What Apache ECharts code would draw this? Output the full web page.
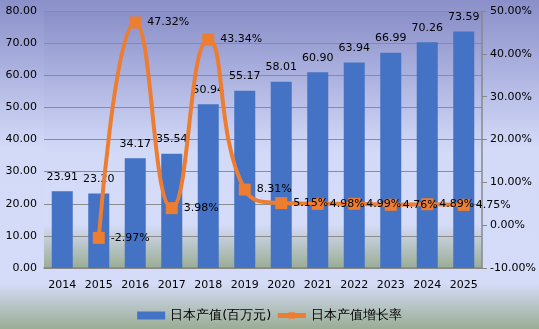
<!DOCTYPE html>
<html><head><meta charset="utf-8">
<script src="https://cdn.jsdelivr.net/npm/echarts@6/dist/echarts.min.js"></script>
<style>html,body{margin:0;padding:0;}#c{width:539px;height:329px;}</style>
</head><body><div id="c"></div>
<script>
const years = ['2014','2015','2016','2017','2018','2019','2020','2021','2022','2023','2024','2025'];
const outputValues = [23.91,23.20,34.17,35.54,50.94,55.17,58.01,60.90,63.94,66.99,70.26,73.59];
const growthRates = [null,-2.97,47.32,3.98,43.34,8.31,5.15,4.98,4.99,4.76,4.89,4.75];
const barName = '日本产值(百万元)';
const lineName = '日本产值增长率';

const chart = echarts.init(document.getElementById('c'));
const font = 'DejaVu Sans';
chart.setOption({
  animation:false,
  backgroundColor:{type:'linear',x:0,y:0,x2:0,y2:1,colorStops:[
    {offset:0,color:'#8a8fc9'},{offset:0.45,color:'#d3daf8'},{offset:0.86,color:'#d5dcf8'},{offset:1,color:'#9aad94'}]},
  textStyle:{fontFamily:font},
  grid:{left:44,right:57,top:11,bottom:61,show:true,borderWidth:0,
    backgroundColor:{type:'linear',x:0,y:0,x2:0,y2:1,colorStops:[
      {offset:0,color:'#8a8fc9'},{offset:0.55,color:'#d3daf8'},{offset:0.83,color:'#d5dcf8'},{offset:1,color:'#9aad94'}]}},
  legend:{bottom:2,left:'center',itemGap:4,itemWidth:28,itemHeight:8,
    textStyle:{fontFamily:font,fontSize:13,color:'#000'},
    lineStyle:{width:5},
    data:[{name:barName,icon:'rect'},{name:lineName}]},
  xAxis:{type:'category',data:years,
    axisLine:{lineStyle:{color:'#888',width:1.5}},axisTick:{show:false},
    axisLabel:{color:'#000',fontSize:11,fontFamily:font,margin:12}},
  yAxis:[
    {type:'value',min:0,max:80,interval:10,
     axisLine:{show:false},axisTick:{show:false},
     splitLine:{lineStyle:{color:'#8c8c8c',width:1.2}},
     axisLabel:{color:'#000',fontSize:11,fontFamily:font,margin:7,formatter:v=>v.toFixed(2)}},
    {type:'value',min:-10,max:50,interval:10,position:'right',
     axisLine:{show:true,lineStyle:{color:'#888',width:1.5}},
     axisTick:{show:true,length:5,lineStyle:{color:'#888'}},
     splitLine:{show:false},
     axisLabel:{color:'#000',fontSize:11,fontFamily:font,margin:8,formatter:v=>v.toFixed(2)+'%'}}
  ],
  series:[
    {name:barName,type:'bar',data:outputValues,barWidth:21,
     itemStyle:{color:'#4472c4'},
     label:{show:true,position:'top',distance:9,color:'#000',fontSize:11,fontFamily:font,formatter:p=>p.value.toFixed(2)}},
    {name:lineName,type:'line',yAxisIndex:1,data:growthRates,smooth:0.5,
     symbol:'rect',symbolSize:12,z:5,
     lineStyle:{color:'#ed7d31',width:4},
     itemStyle:{color:'#ed7d31'},
     label:{show:true,position:'right',distance:6,color:'#000',fontSize:11,fontFamily:font,formatter:p=>p.value.toFixed(2)+'%'}}
  ]
});
</script></body></html>
